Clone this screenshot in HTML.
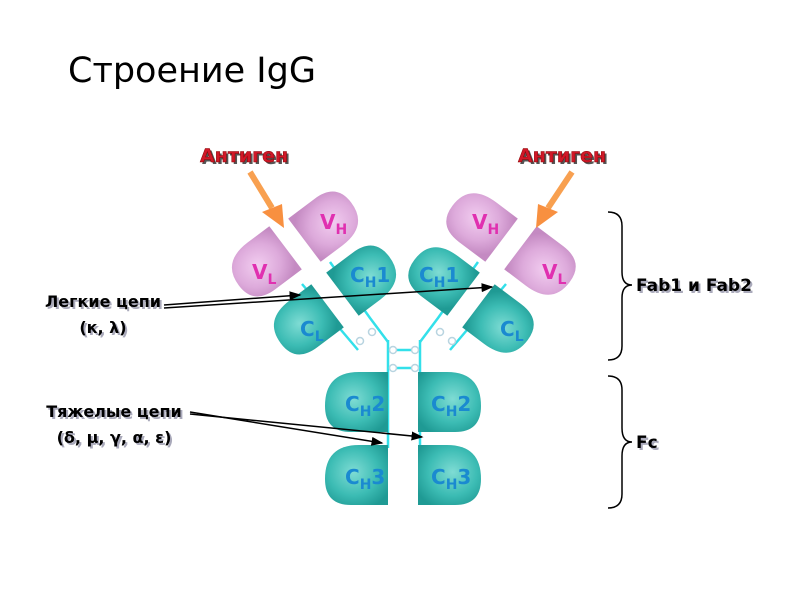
<!DOCTYPE html>
<html><head><meta charset="utf-8"><style>
body{margin:0;background:#fff;}
svg{display:block;}
.t{font-family:"DejaVu Sans","Liberation Sans",sans-serif;}
</style></head><body>
<svg width="800" height="600" viewBox="0 0 800 600" xmlns="http://www.w3.org/2000/svg">
<defs>
<radialGradient id="tq" cx="0.45" cy="0.45" r="0.65"><stop offset="0" stop-color="#7fdcd4"/><stop offset="0.6" stop-color="#3cbcb4"/><stop offset="1" stop-color="#1f9a94"/></radialGradient>
<radialGradient id="pk" cx="0.45" cy="0.45" r="0.65"><stop offset="0" stop-color="#f2cdf0"/><stop offset="0.6" stop-color="#ddaadb"/><stop offset="1" stop-color="#c48ac2"/></radialGradient>
<path id="dom" d="M31,-30 L31,30 L-6,30 Q-32,30 -32,4 Q-32,-30 2,-30 Z"/>
<path id="dom2" d="M27,-27 L27,27 L-6,27 Q-33,27 -33,2 Q-33,-27 0,-27 Z"/>
<marker id="ah" markerWidth="8" markerHeight="6" refX="7" refY="3" orient="auto"><path d="M0,0 L8,3 L0,6 Z" fill="#000"/></marker>
</defs>
<text x="68" y="82" class="t" font-size="35" fill="#000">Строение IgG</text>

<g stroke="#33e0ea" stroke-width="2.5" fill="none">
<line x1="388" y1="340" x2="388" y2="448"/><line x1="420" y1="340" x2="420" y2="448"/>
<polyline points="388,342 370,318 330,262"/>
<polyline points="420,342 438,318 478,262"/>
<line x1="302" y1="284" x2="358" y2="350"/>
<line x1="506" y1="284" x2="450" y2="350"/>
<line x1="396" y1="350" x2="412" y2="350"/><line x1="396" y1="368" x2="412" y2="368"/>
</g>
<g fill="none" stroke="#b8d4e0" stroke-width="1.5">
<circle cx="393" cy="350" r="3.5"/><circle cx="415" cy="350" r="3.5"/><circle cx="393" cy="368" r="3.5"/><circle cx="415" cy="368" r="3.5"/>
<circle cx="360" cy="341" r="3.5"/><circle cx="372" cy="332" r="3.5"/><circle cx="440" cy="332" r="3.5"/><circle cx="452" cy="341" r="3.5"/>
</g>

<use href="#dom" fill="url(#tq)" transform="translate(357,402)"/>
<use href="#dom" fill="url(#tq)" transform="translate(449,402) scale(-1,1)"/>
<use href="#dom" fill="url(#tq)" transform="translate(357,475)"/>
<use href="#dom" fill="url(#tq)" transform="translate(449,475) scale(-1,1)"/>
<use href="#dom2" fill="url(#tq)" transform="translate(364,278) rotate(143)"/>
<use href="#dom2" fill="url(#pk)" transform="translate(326,224) rotate(143)"/>
<use href="#dom2" fill="url(#pk)" transform="translate(264,264) rotate(-37)"/>
<use href="#dom2" fill="url(#tq)" transform="translate(306,322) rotate(-37)"/>
<use href="#dom2" fill="url(#tq)" transform="translate(442,278) rotate(37)"/>
<use href="#dom2" fill="url(#pk)" transform="translate(480,224) rotate(37)"/>
<use href="#dom2" fill="url(#pk)" transform="translate(542,264) rotate(-143)"/>
<use href="#dom2" fill="url(#tq)" transform="translate(500,322) rotate(-143)"/>

<g class="t" font-size="20" font-weight="bold" fill="#1a8ad0">
<text x="345" y="411">C<tspan font-size="14" dy="5">H</tspan><tspan dy="-5">2</tspan></text>
<text x="431" y="411">C<tspan font-size="14" dy="5">H</tspan><tspan dy="-5">2</tspan></text>
<text x="345" y="484">C<tspan font-size="14" dy="5">H</tspan><tspan dy="-5">3</tspan></text>
<text x="431" y="484">C<tspan font-size="14" dy="5">H</tspan><tspan dy="-5">3</tspan></text>
<text x="350" y="282">C<tspan font-size="14" dy="5">H</tspan><tspan dy="-5">1</tspan></text>
<text x="419" y="282">C<tspan font-size="14" dy="5">H</tspan><tspan dy="-5">1</tspan></text>
<text x="300" y="336">C<tspan font-size="14" dy="5">L</tspan></text>
<text x="500" y="336">C<tspan font-size="14" dy="5">L</tspan></text>
</g>
<g class="t" font-size="20" font-weight="bold" fill="#e030b0">
<text x="320" y="229">V<tspan font-size="14" dy="5">H</tspan></text>
<text x="472" y="229">V<tspan font-size="14" dy="5">H</tspan></text>
<text x="252" y="279">V<tspan font-size="14" dy="5">L</tspan></text>
<text x="542" y="279">V<tspan font-size="14" dy="5">L</tspan></text>
</g>

<g class="t" font-size="19" font-weight="bold">
<text x="202" y="164" fill="#555">Антиген</text><text x="200" y="162" fill="#d01828" stroke="#800" stroke-width="0.5">Антиген</text>
<text x="520" y="164" fill="#555">Антиген</text><text x="518" y="162" fill="#d01828" stroke="#800" stroke-width="0.5">Антиген</text>
</g>
<g stroke="#f8a050" stroke-width="6">
<line x1="250" y1="172" x2="272" y2="208"/>
<line x1="572" y1="172" x2="548" y2="208"/>
</g>
<path d="M262,212 L282,204 L284,228 Z" fill="#f89040"/>
<path d="M558,212 L538,204 L536,228 Z" fill="#f89040"/>

<g class="t" font-size="16" font-weight="bold" text-anchor="middle">
<text x="105" y="309" fill="#aab">Легкие цепи</text><text x="103" y="307">Легкие цепи</text>
<text x="105" y="335" fill="#aab">(к, λ)</text><text x="103" y="333">(к, λ)</text>
<text x="116" y="419" fill="#aab">Тяжелые цепи</text><text x="114" y="417">Тяжелые цепи</text>
<text x="116" y="445" fill="#aab">(δ, μ, γ, α, ε)</text><text x="114" y="443">(δ, μ, γ, α, ε)</text>
</g>
<g stroke="#000" stroke-width="1.5" marker-end="url(#ah)">
<line x1="164" y1="305" x2="300" y2="295"/>
<line x1="164" y1="308" x2="492" y2="287"/>
<line x1="190" y1="412" x2="382" y2="443"/>
<line x1="190" y1="414" x2="422" y2="437"/>
</g>

<g fill="none" stroke="#000" stroke-width="1.5">
<path d="M608,212 Q622,212 622,226 L622,272 Q622,285 632,285 Q622,285 622,298 L622,346 Q622,360 608,360"/>
<path d="M608,376 Q622,376 622,390 L622,428 Q622,442 632,442 Q622,442 622,456 L622,494 Q622,508 608,508"/>
</g>
<g class="t" font-size="17" font-weight="bold">
<text x="638" y="293" fill="#aab">Fab1 и Fab2</text><text x="636" y="291">Fab1 и Fab2</text>
<text x="638" y="450" fill="#aab">Fc</text><text x="636" y="448">Fc</text>
</g>
</svg>
</body></html>
